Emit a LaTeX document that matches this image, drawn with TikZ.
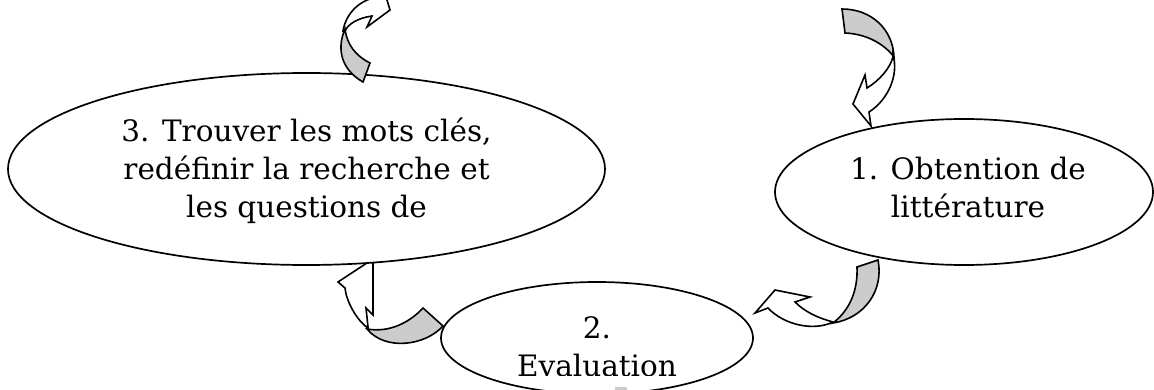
\documentclass[tikz,border=0pt]{standalone}
\usepackage{fontspec}
\setmainfont{DejaVu Serif}
\usetikzlibrary{shapes.geometric}
\tikzset{
  ovalbox/.style={draw, ellipse, fill=white, line width=1.7pt, inner sep=0pt},
  lbl/.style={anchor=base, inner sep=0pt, font=\fontsize{29.5}{38}\selectfont},
  backband/.style={draw, fill=black!20, line width=1.6pt, line join=miter},
  frontband/.style={draw, fill=white, line width=1.6pt, line join=miter},
}
\begin{document}
\begin{tikzpicture}[x=1pt,y=-1pt]
\useasboundingbox (0,0) rectangle (1154,390);
\clip (0,0) rectangle (1154,390);
% arrow D (tip hidden behind ellipse 3)
\path[frontband] (368,328) .. controls (356,320) and (346,300) .. (345,288) -- (338,282) -- (373,259) -- (373,315) -- (366,308) -- (368,327) -- cycle;
\path[backband] (423,308) -- (443,326) .. controls (425,346) and (385,351) .. (367,329) .. controls (390,333) and (410,322) .. (423,308) -- cycle;
% ellipses
\node[ovalbox, minimum width=597pt, minimum height=192pt] (e3) at (306.5,169) {};
\node[ovalbox, minimum width=378pt, minimum height=146pt] (e1) at (964,192) {};
\node[ovalbox, minimum width=312pt, minimum height=112pt] (e2) at (597,338) {};
% arrow A
\path[frontband] (343,31) .. controls (346,12) and (362,-2) .. (380,-3) -- (384,-10) -- (390,10) -- (367,27) -- (372,16) .. controls (358,18) and (348,24) .. (345,31) -- cycle;
\path[backband] (345,29) .. controls (336,50) and (342,70) .. (363,82) -- (370,63) .. controls (356,56) and (347,45) .. (345,29) -- cycle;
% arrow B
\path[backband] (842,9) .. controls (872,9) and (893,30) .. (894,57) .. controls (885,45) and (868,34) .. (845,33) -- cycle;
\path[frontband] (893,55) .. controls (899,75) and (888,100) .. (869,112) -- (871,126) -- (853,104) -- (865,75) -- (867,88) .. controls (880,80) and (890,68) .. (893,57) -- cycle;
% arrow C
\path[backband] (857,267) -- (878,260) .. controls (884,290) and (865,318) .. (833,323) .. controls (850,310) and (858,290) .. (857,267) -- cycle;
\path[frontband] (833,322) .. controls (815,331) and (785,326) .. (768,308) -- (755,313) -- (775,290) -- (810,297) -- (795,302) .. controls (805,312) and (818,318) .. (833,322) -- cycle;
% small piece at the bottom
\fill[black!20] (615,387) rectangle (627,392);
% texts
\node[lbl] (t3a) at (306.5,142) {3. Trouver les mots clés,};
\node[lbl] (t3b) at (306.5,180) {redéfinir la recherche et};
\node[lbl] (t3c) at (306.5,218) {les questions de};
\node[lbl] (t1a) at (968,180) {1. Obtention de};
\node[lbl] (t1b) at (968,218) {littérature};
\node[lbl] (t2a) at (597,338) {2.};
\begin{scope}
\clip (0,0) rectangle (1154,375.5);
\node[lbl] (t2b) at (597,376) {Evaluation};
\end{scope}
\end{tikzpicture}
\end{document}
